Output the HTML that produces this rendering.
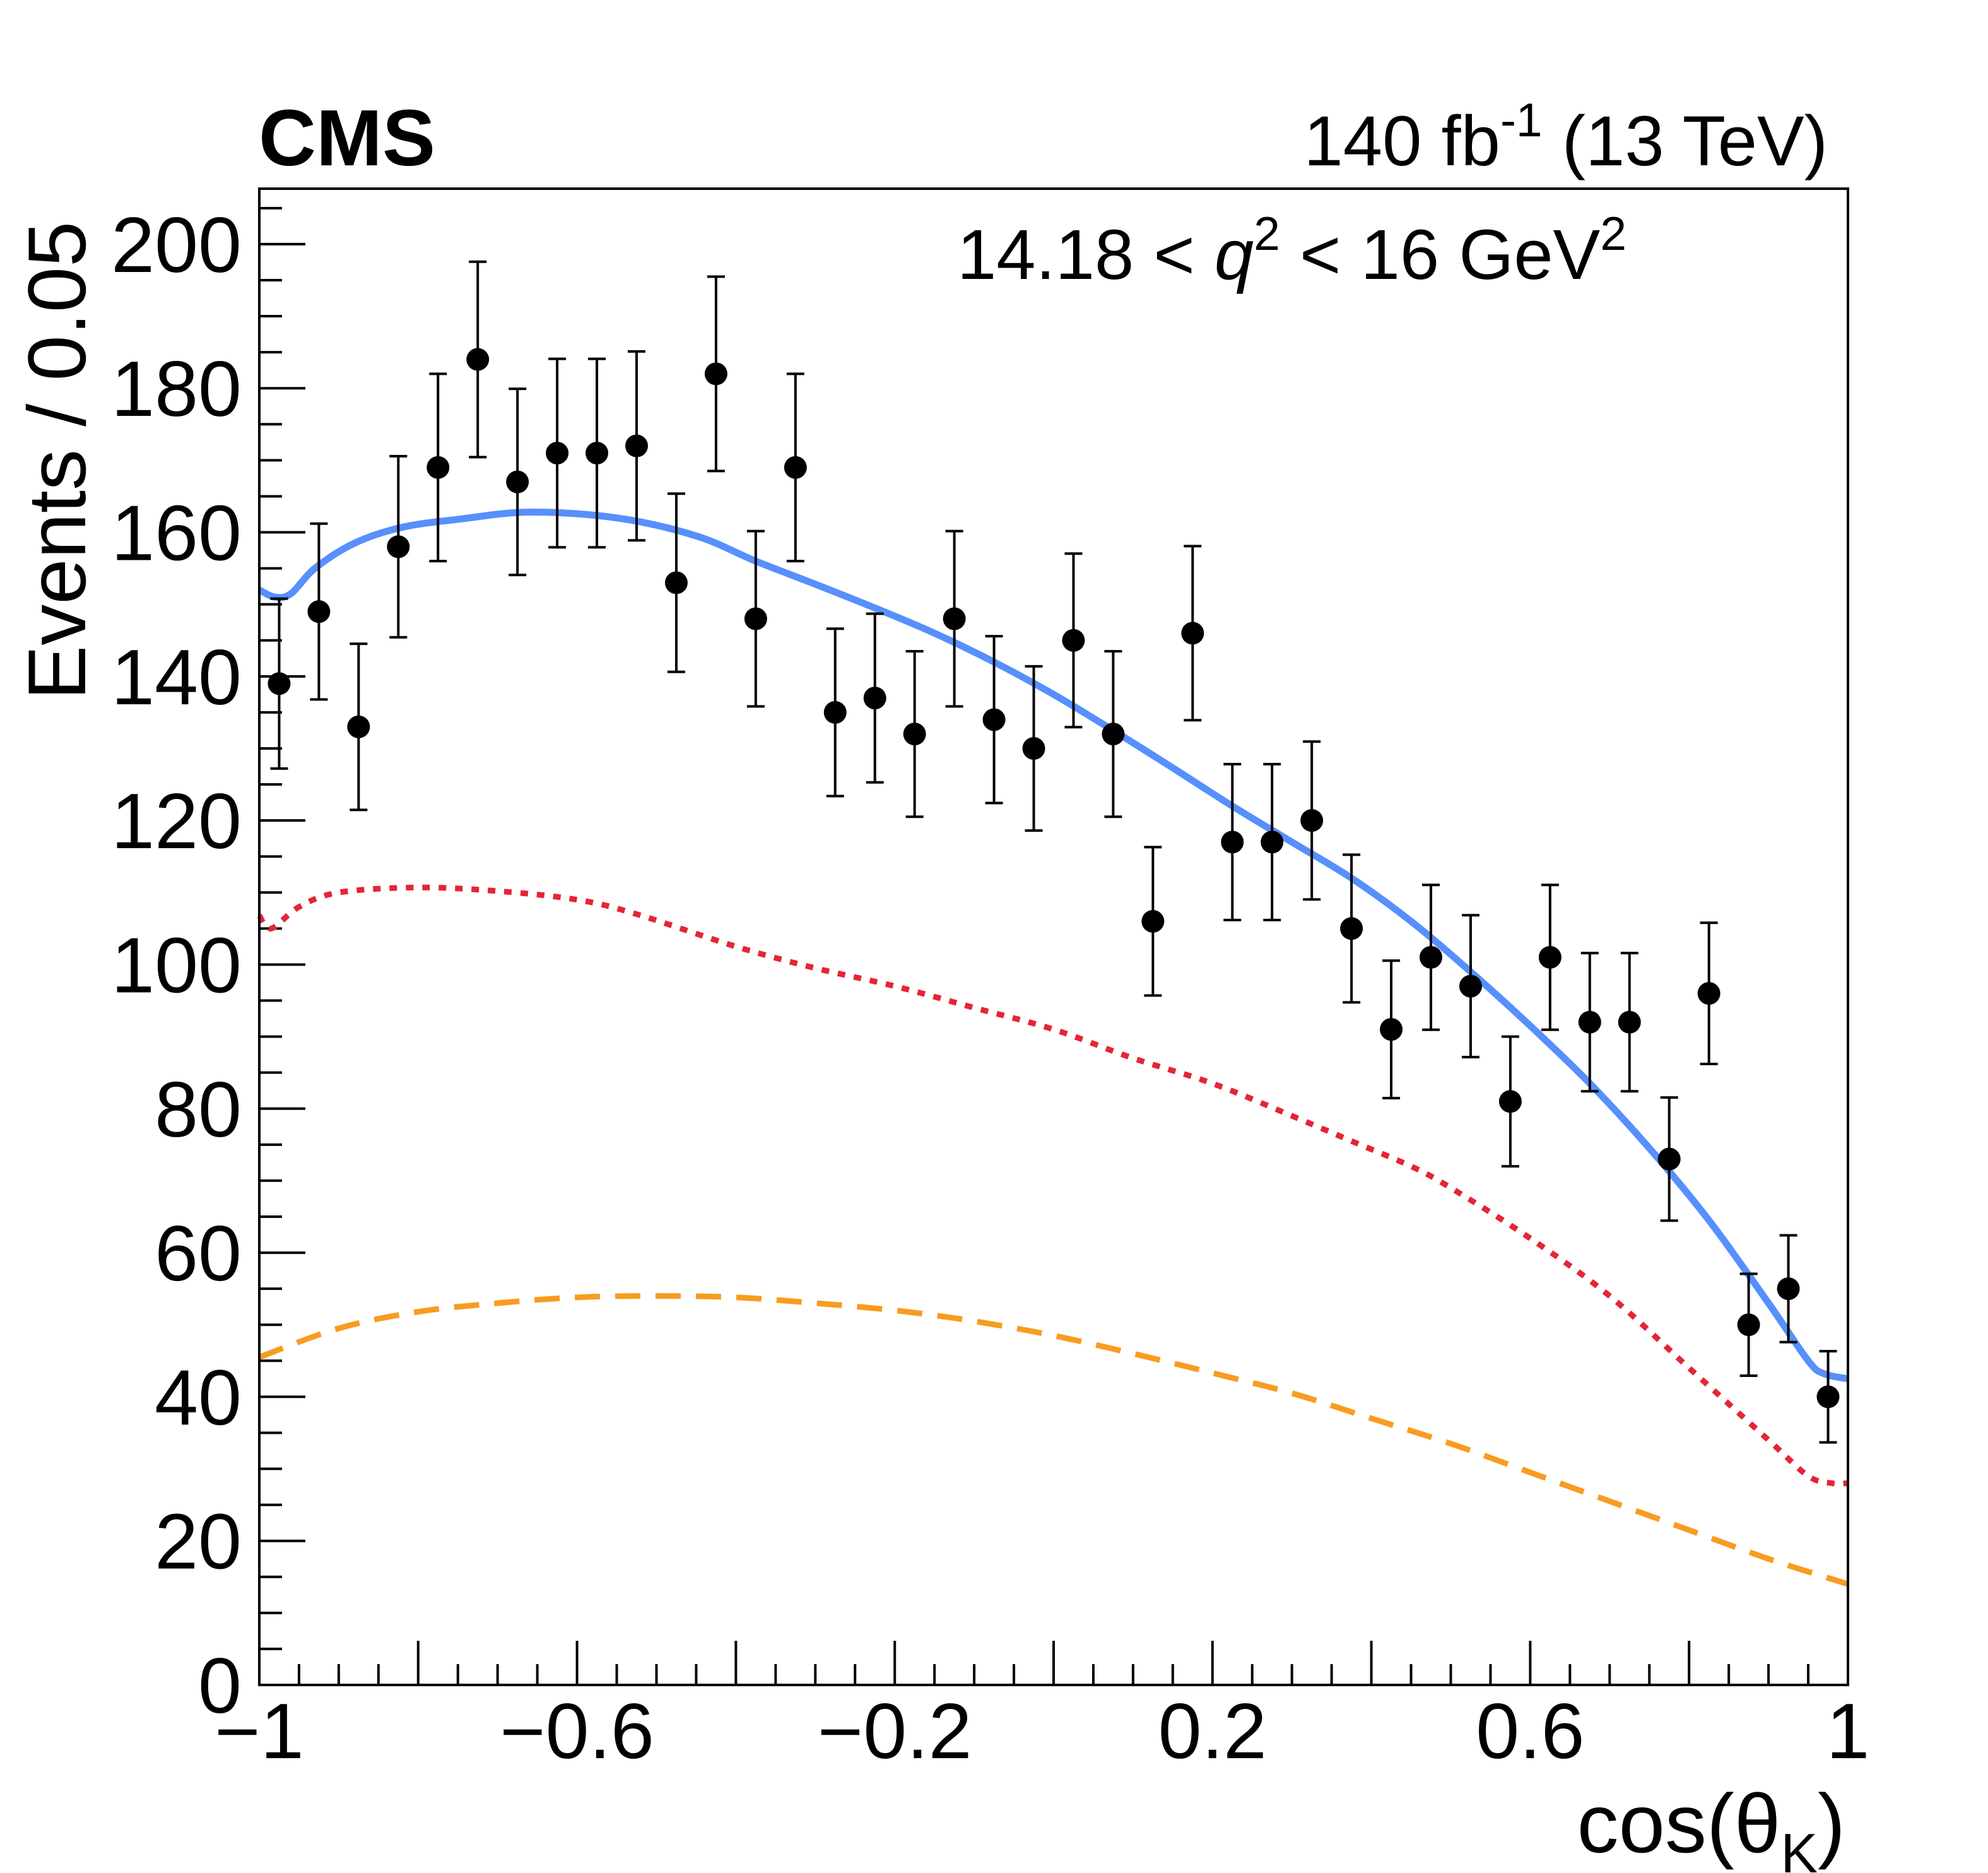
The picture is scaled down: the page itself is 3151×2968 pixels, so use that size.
<!DOCTYPE html>
<html><head><meta charset="utf-8"><style>
html,body{margin:0;padding:0;background:#fff}
svg{display:block}
text{font-family:"Liberation Sans",Arial,sans-serif;fill:#000}
</style></head><body>
<svg id="chart" width="3151" height="2968" viewBox="0 0 3151 2968" xmlns="http://www.w3.org/2000/svg">
<text x="410" y="262" font-size="126" font-weight="bold">CMS</text>
<text x="2897" y="262" font-size="112" text-anchor="end">140 fb<tspan dy="-46" font-size="75">-1</tspan><tspan dy="46"> (13 TeV)</tspan></text>
<text x="1517" y="442" font-size="112">14.18 &lt; <tspan font-style="italic">q</tspan><tspan dy="-46" font-size="75">2</tspan><tspan dy="46"> &lt; 16 GeV</tspan><tspan dy="-46" font-size="75">2</tspan></text>
<text transform="translate(135,730) rotate(-90)" font-size="130" text-anchor="middle" x="0" y="0">Events / 0.05</text>
<text x="2925" y="2935" font-size="132" text-anchor="end">cos(θ<tspan dy="32" font-size="88">K</tspan><tspan dy="-32">)</tspan></text>
<g id="ticks"></g>
<g id="curves"></g>
<g id="points"></g>
<rect x="411" y="299" width="2518" height="2371" fill="none" stroke="#000" stroke-width="4"/>
</svg>
<script>
const xTickLabels = [-1, -0.6, -0.2, 0.2, 0.6, 1];
const yTickLabels = [0, 20, 40, 60, 80, 100, 120, 140, 160, 180, 200];
const binCenters = [-0.975,-0.925,-0.875,-0.825,-0.775,-0.725,-0.675,-0.625,-0.575,-0.525,-0.475,-0.425,-0.375,-0.325,-0.275,-0.225,-0.175,-0.125,-0.075,-0.025,0.025,0.075,0.125,0.175,0.225,0.275,0.325,0.375,0.425,0.475,0.525,0.575,0.625,0.675,0.725,0.775,0.825,0.875,0.925,0.975];
const counts = [139,149,133,158,169,184,167,171,171,172,153,182,148,169,135,137,132,148,134,130,145,132,106,146,117,117,120,105,91,101,97,81,101,92,92,73,96,50,55,40];
const totalX = [-1,-0.98,-0.96,-0.93,-0.88,-0.82,-0.75,-0.66,-0.55,-0.45,-0.375,-0.3,-0.225,-0.15,-0.075,0,0.075,0.15,0.225,0.3,0.375,0.45,0.525,0.6,0.675,0.75,0.825,0.9,0.95,0.97,1];
const totalY = [152,151,151.5,155,158.5,160.7,161.8,162.8,162,159.5,156,152.8,149.5,146,142,137.5,132.5,127.3,122,117,112,106,99,91.5,83.5,74.5,64.5,53,45,43.2,42.5];
const sigX = [-1,-0.985,-0.95,-0.9,-0.8,-0.7,-0.6,-0.525,-0.4,-0.3,-0.2,-0.1,0,0.1,0.2,0.3,0.375,0.45,0.5,0.6,0.7,0.8,0.9,0.95,0.98,1];
const sigY = [106.8,105,108,110,110.7,110.2,109,107,102.5,99.5,97,94,91,87,83.5,79,75.5,72,69,62,54,44,34,29,28,28];
const bkgX = [-1,-0.9,-0.8,-0.7,-0.6,-0.5,-0.4,-0.3,-0.2,-0.1,0,0.1,0.2,0.3,0.4,0.5,0.6,0.7,0.8,0.9,1];
const bkgY = [45.5,49.5,51.8,53,53.8,54,53.8,53,52,50.5,48.5,46,43.3,40.5,37,33.5,29.5,25.5,21.5,17.5,14];

const NS='http://www.w3.org/2000/svg';
const X0=411,X1=2929,Y0=2670,YTOP=299,YMAX=207.7;
const sx=v=>X0+(v+1)/2*(X1-X0);
const sy=v=>Y0-v/YMAX*(Y0-YTOP);
function mk(tag,attrs,parent){const e=document.createElementNS(NS,tag);for(const k in attrs)e.setAttribute(k,attrs[k]);parent.appendChild(e);return e;}
const ticks=document.getElementById('ticks');
for(let v=0;v<=205;v+=5){
  const major=v%20===0;
  const t=mk('line',{x1:X0,x2:X0+(major?73:36),y1:sy(v),y2:sy(v),stroke:'#000','stroke-width':4},ticks);
  
  
}
yTickLabels.forEach(v=>{
  const t=mk('text',{x:383,y:sy(v)+44,'font-size':124,'text-anchor':'end'},ticks);
  t.textContent=String(v);
  
  
});
for(let i=0;i<=40;i++){
  const v=-1+i*0.05;
  const major=i%4===0;
  const t=mk('line',{x1:sx(v),x2:sx(v),y1:Y0,y2:Y0-(major?70:33),stroke:'#000','stroke-width':4},ticks);
  
  
}
xTickLabels.forEach(v=>{
  const t=mk('text',{x:sx(v),y:2786,'font-size':124,'text-anchor':'middle'},ticks);
  t.textContent=String(v).replace('-','\u2212');
  
  
});
function path(xs,ys){
  const p=xs.map((x,i)=>[sx(x),sy(ys[i])]);
  let d='M'+p[0][0]+','+p[0][1];
  for(let i=0;i<p.length-1;i++){
    const a=p[Math.max(i-1,0)],b=p[i],c=p[i+1],e=p[Math.min(i+2,p.length-1)];
    d+=' C'+(b[0]+(c[0]-a[0])/6)+','+(b[1]+(c[1]-a[1])/6)+' '+(c[0]-(e[0]-b[0])/6)+','+(c[1]-(e[1]-b[1])/6)+' '+c[0]+','+c[1];
  }
  return d;
}
const cg=document.getElementById('curves');
const bk=mk('path',{d:path(bkgX,bkgY),fill:'none',stroke:'#f89c20','stroke-width':9,'stroke-dasharray':'40 24'},cg);


const sg=mk('path',{d:path(sigX,sigY),fill:'none',stroke:'#e42536','stroke-width':9,'stroke-dasharray':'12 14'},cg);


const tot=mk('path',{d:path(totalX,totalY),fill:'none',stroke:'#5790fc','stroke-width':11},cg);


const pg=document.getElementById('points');
binCenters.forEach((x,i)=>{
  const n=counts[i],e=Math.sqrt(n),cx=sx(x);
  const g=mk('g',{},pg);
  
  
  mk('line',{x1:cx,x2:cx,y1:sy(n+e),y2:sy(n-e),stroke:'#000','stroke-width':4},g);
  mk('line',{x1:cx-14,x2:cx+14,y1:sy(n+e),y2:sy(n+e),stroke:'#000','stroke-width':4},g);
  mk('line',{x1:cx-14,x2:cx+14,y1:sy(n-e),y2:sy(n-e),stroke:'#000','stroke-width':4},g);
  mk('circle',{cx:cx,cy:sy(n),r:18,fill:'#000'},g);
});
</script>
</body></html>
